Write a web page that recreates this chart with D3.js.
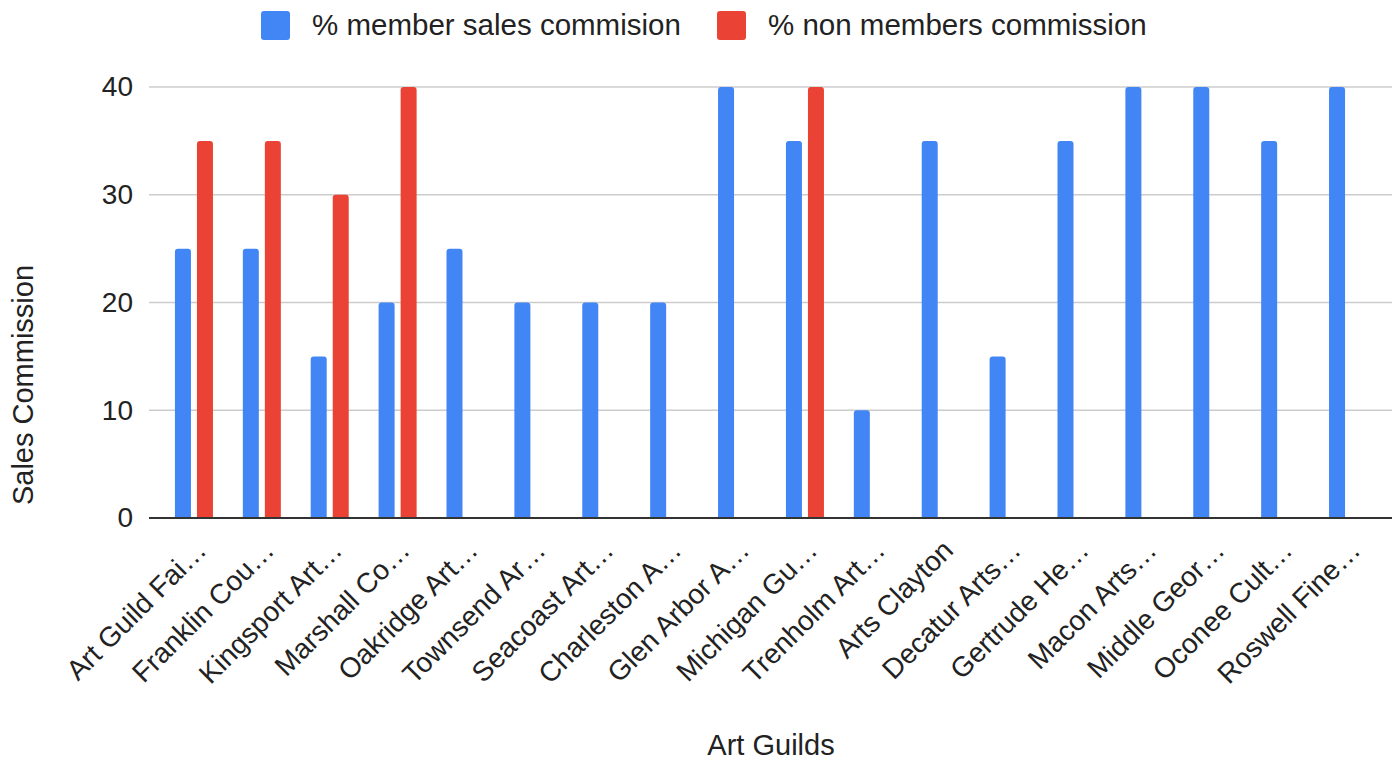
<!DOCTYPE html>
<html><head><meta charset="utf-8">
<script src="https://cdn.jsdelivr.net/npm/d3@7"></script>
<style>body{margin:0;background:#fff}text{font-family:"Liberation Sans",Arial,sans-serif;fill:#222}</style>
</head><body>
<svg id="c" width="1397" height="760"></svg>
<script>
const categories = ["Art Guild Fai…","Franklin Cou…","Kingsport Art…","Marshall Co…","Oakridge Art…","Townsend Ar…","Seacoast Art…","Charleston A…","Glen Arbor A…","Michigan Gu…","Trenholm Art…","Arts Clayton","Decatur Arts…","Gertrude He…","Macon Arts…","Middle Geor…","Oconee Cult…","Roswell Fine…"];
const seriesNames = ["% member sales commision","% non members commission"];
const memberValues = [25,25,15,20,25,20,20,20,40,35,10,35,15,35,40,40,35,40];
const nonMemberValues = [35,35,30,40,null,null,null,null,null,40,null,null,null,null,null,null,null,null];
const yTicks = [0,10,20,30,40];
const colors = ["#4285F4","#EA4335"];

const svg = d3.select("#c");
const y = d3.scaleLinear().domain([0,40]).range([518,87]);
const x0 = d3.scaleBand().domain(categories).range([160,1382]).paddingInner(0.44).paddingOuter(0.22);
const x1 = d3.scaleBand().domain(seriesNames).range([0,x0.bandwidth()]).paddingInner(0.273).paddingOuter(0);

// gridlines
svg.append("g").selectAll("line").data(yTicks.filter(d=>d>0)).join("line")
  .attr("x1",149).attr("x2",1392).attr("y1",d=>y(d)).attr("y2",d=>y(d))
  .attr("stroke","#cccccc").attr("stroke-width",1.5);

const yAxis = svg.append("g").attr("transform","translate(149,0)")
  .call(d3.axisLeft(y).tickValues(yTicks).tickSize(0).tickPadding(16));
yAxis.select(".domain").remove();
yAxis.selectAll("text").attr("font-size",28).attr("fill","#222").style("font-family","'Liberation Sans',Arial,sans-serif");

function barPath(x,yTop,w,h,r){
  r=Math.min(r,h,w/2);
  return `M${x},${yTop+h}V${yTop+r}Q${x},${yTop} ${x+r},${yTop}H${x+w-r}Q${x+w},${yTop} ${x+w},${yTop+r}V${yTop+h}Z`;
}
const data = [];
categories.forEach((c,i)=>{
  [memberValues[i],nonMemberValues[i]].forEach((v,j)=>{ if(v!=null) data.push({c,s:seriesNames[j],v,j}); });
});
svg.append("g").selectAll("path").data(data).join("path")
  .attr("d",d=>barPath(x0(d.c)+x1(d.s), y(d.v), x1.bandwidth(), y(0)-y(d.v), 3))
  .attr("fill",d=>colors[d.j]);

// zero line
svg.append("line").attr("x1",149).attr("x2",1392).attr("y1",y(0)).attr("y2",y(0)).attr("stroke","#333").attr("stroke-width",2);

// x labels
const xg = svg.append("g").attr("transform",`translate(0,${y(0)})`)
  .call(d3.axisBottom(x0).tickSize(0).tickPadding(0));
xg.select(".domain").remove();
xg.selectAll("text").attr("font-size",28).attr("fill","#222").style("font-family","'Liberation Sans',Arial,sans-serif")
  .attr("text-anchor","end").attr("dy",null).attr("y",0).attr("x",0)
  .attr("transform","translate(14,34) rotate(-45)");

// axis titles
svg.append("text").attr("x",771).attr("y",755).attr("text-anchor","middle").attr("font-size",29).text("Art Guilds");
svg.append("text").attr("transform","translate(33,385) rotate(-90)").attr("text-anchor","middle").attr("font-size",29).text("Sales Commission");

// legend
const leg = [{n:seriesNames[0],x:261},{n:seriesNames[1],x:717}];
leg.forEach((l,i)=>{
  svg.append("rect").attr("x",l.x).attr("y",11).attr("width",29).attr("height",29).attr("rx",3).attr("fill",colors[i]);
  svg.append("text").attr("x",l.x+51).attr("y",35).attr("font-size",29.5).text(l.n);
});
</script>
</body></html>
